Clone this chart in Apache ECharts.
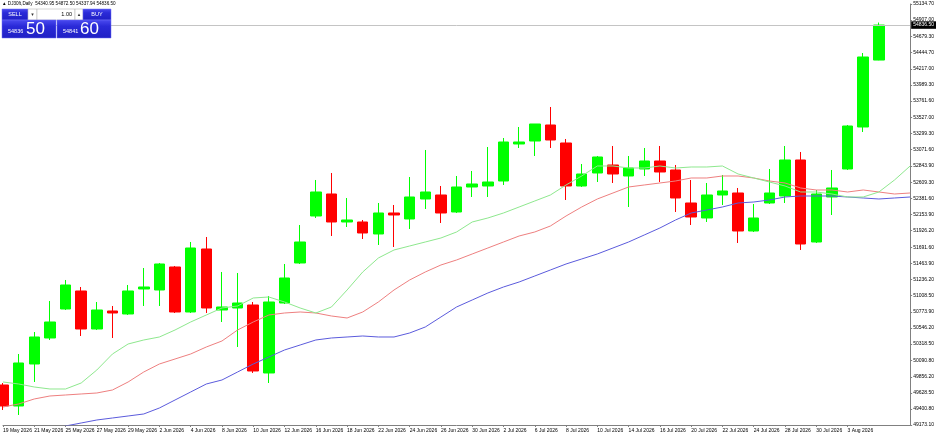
<!DOCTYPE html>
<html>
<head>
<meta charset="utf-8">
<script src="https://cdn.jsdelivr.net/npm/echarts@6/dist/echarts.min.js"></script>
<style>
html,body{margin:0;padding:0;background:#fff;}
#chart{width:937px;height:437px;}
</style>
</head>
<body>
<div id="chart"></div>
<script>
// ---- data ----
const categories = ['19 May 2026','20 May 2026','21 May 2026','22 May 2026','25 May 2026','26 May 2026','27 May 2026','28 May 2026','29 May 2026',
 '1 Jun 2026','2 Jun 2026','3 Jun 2026','4 Jun 2026','5 Jun 2026','8 Jun 2026','9 Jun 2026','10 Jun 2026','11 Jun 2026','12 Jun 2026',
 '15 Jun 2026','16 Jun 2026','17 Jun 2026','18 Jun 2026','19 Jun 2026','22 Jun 2026','23 Jun 2026','24 Jun 2026','25 Jun 2026','26 Jun 2026',
 '29 Jun 2026','30 Jun 2026','1 Jul 2026','2 Jul 2026','3 Jul 2026','6 Jul 2026','7 Jul 2026','8 Jul 2026','9 Jul 2026','10 Jul 2026',
 '13 Jul 2026','14 Jul 2026','15 Jul 2026','16 Jul 2026','17 Jul 2026','20 Jul 2026','21 Jul 2026','22 Jul 2026','23 Jul 2026','24 Jul 2026',
 '27 Jul 2026','28 Jul 2026','29 Jul 2026','30 Jul 2026','31 Jul 2026','3 Aug 2026','4 Aug 2026','5 Aug 2026','6 Aug 2026','7 Aug 2026'];

const openV = [49739.7,49442.3,50037.1,50405.2,50815.9,51070.7,50532.7,50787.5,50745.1,51099.1,
 51084.9,51410.6,50773.4,51665.5,50801.7,50830.0,50872.5,49909.6,50900.8,51467.2,
 52132.7,52444.3,52047.8,52047.8,51877.9,52175.2,52090.3,52373.5,52430.1,52189.4,
 52543.4,52557.5,52628.3,53152.3,53194.7,53421.3,53166.4,52557.5,52741.6,52854.9,
 52699.1,52798.3,52911.5,52784.1,52316.8,52104.4,52430.1,52458.4,51920.3,52316.8,
 52415.9,52925.7,51764.6,52401.8,52798.3,53393.0,54340.95];
const highV = [49768.0,50178.7,50490.2,50929.1,51226.5,51127.4,50915.0,50858.3,51155.7,51396.4,
 51467.2,51424.7,51764.6,51835.4,51339.8,51325.6,50915.0,50999.9,51453.1,52005.3,
 52642.5,52741.6,52387.6,52076.1,52316.8,52288.5,52685.0,53067.3,52557.5,52699.1,
 52769.9,53109.8,53237.2,53393.0,53435.5,53676.2,53223.1,52869.1,52982.3,53123.9,
 52982.3,53095.6,53123.9,52854.9,52642.5,52600.0,52713.3,52529.2,52302.7,52798.3,
 53123.9,53039.0,52500.9,52784.1,53421.3,54440.8,54872.50];
const lowV = [49385.7,49314.9,49782.2,50376.9,50801.7,50433.5,50518.5,50405.2,50730.9,50858.3,
 50858.3,50759.2,50759.2,50759.2,50631.8,50277.8,49909.6,49768.0,50886.7,51453.1,
 52104.4,51849.5,51977.0,51807.1,51722.1,51693.8,51948.7,52231.9,52033.6,52175.2,
 52401.8,52401.8,52571.7,53095.6,52982.3,53095.6,52359.3,52543.4,52614.2,52600.0,
 52260.2,52699.1,52614.2,52189.4,52005.3,52047.8,52288.5,51750.4,51906.2,52302.7,
 52316.8,51651.3,51750.4,52146.9,52784.1,53322.2,54337.94];
const closeV = [49442.3,50051.2,50419.4,50631.8,51155.7,50532.7,50801.7,50759.2,51070.7,51127.4,
 51453.1,50773.4,51679.6,50830.0,50844.2,50900.8,49937.9,50915.0,51254.8,51764.6,
 52472.6,52047.8,52076.1,51892.0,52175.2,52146.9,52401.8,52472.6,52175.2,52543.4,
 52585.9,52614.2,53180.6,53180.6,53435.5,53208.9,52557.5,52727.5,52968.2,52727.5,
 52812.4,52911.5,52755.8,52387.6,52118.6,52430.1,52486.7,51920.3,52104.4,52458.4,
 52925.7,51736.3,52444.3,52529.2,53407.1,54384.2,54836.50];

// Alligator lines (shifted forward, so they run past the last bar)
const lips = [49782.2,49753.9,49711.4,49683.1,49683.1,49768.0,49952.1,50178.7,50320.3,50376.9,
 50419.4,50518.5,50631.8,50730.9,50830.0,50858.3,50971.6,50985.8,50915.0,50830.0,
 50759.2,50844.2,51084.9,51339.8,51538.0,51651.3,51707.9,51764.6,51821.2,51906.2,
 52047.8,52104.4,52175.2,52260.2,52345.1,52430.1,52571.7,52699.1,52840.7,52840.7,
 52812.4,52812.4,52840.7,52812.4,52826.6,52826.6,52840.7,52727.5,52670.8,52614.2,
 52557.5,52472.6,52472.6,52444.3,52401.8,52401.8,52472.6,52642.5,52840.7];
const teeth = [49428.2,49470.7,49541.5,49583.9,49598.1,49612.3,49626.4,49668.9,49782.2,49923.8,
 50037.1,50107.9,50178.7,50277.8,50362.7,50518.5,50631.8,50730.9,50759.2,50773.4,
 50759.2,50716.7,50688.4,50773.4,50915.0,51084.9,51226.5,51339.8,51438.9,51509.7,
 51594.7,51679.6,51764.6,51849.5,51906.2,51991.1,52132.7,52260.2,52373.5,52458.4,
 52543.4,52571.7,52600.0,52628.3,52670.8,52670.8,52699.1,52699.1,52670.8,52628.3,
 52600.0,52529.2,52500.9,52500.9,52472.6,52500.9,52472.6,52444.3,52458.4];
const jaw = [null,null,null,49088.3,49159.1,49201.6,49244.1,49272.4,49300.7,49329.1,
 49414.0,49527.3,49640.6,49753.9,49810.5,49923.8,50037.1,50136.2,50235.3,50306.1,
 50376.9,50405.2,50419.4,50433.5,50419.4,50419.4,50476.0,50561.0,50702.6,50844.2,
 50943.3,51042.4,51127.4,51198.2,51283.1,51368.1,51453.1,51523.9,51594.7,51679.6,
 51764.6,51863.7,51962.8,52076.1,52175.2,52217.7,52260.2,52316.8,52331.0,52359.3,
 52401.8,52415.9,52415.9,52415.9,52401.8,52387.6,52373.5,52387.6,52401.8];

const yTicks = [49173.10,49400.80,49628.50,49856.20,50090.80,50318.50,50546.20,50773.90,51008.50,
 51236.20,51463.90,51691.60,51926.20,52153.90,52381.60,52609.30,52843.90,53071.60,53299.30,
 53527.00,53761.60,53989.30,54217.00,54444.70,54679.30,54907.00,55134.70];

const lastBarIndex = 56;
const bidPrice = 54836.50;
const askPrice = 54841.60;
const headerText = '\u25B2 DJ30ft,Daily  54340.95 54872.50 54337.94 54836.50';

// ---- chart ----
const candleData = openV.map((o, i) => [o, closeV[i], lowV[i], highV[i]]);
const FONT = 'Liberation Sans';
const showLabel = (idx) => idx % 2 === 0 && idx <= lastBarIndex;

const chart = echarts.init(document.getElementById('chart'), null, {renderer: 'canvas'});
const blueGrad = new echarts.graphic.LinearGradient(0, 0, 0, 1, [
  {offset: 0, color: '#4b4bf0'}, {offset: 0.35, color: '#2a2ad8'}, {offset: 1, color: '#1f1fc4'}]);
const blueGrad2 = new echarts.graphic.LinearGradient(0, 0, 0, 1, [
  {offset: 0, color: '#4b4bf0'}, {offset: 0.35, color: '#2a2ad8'}, {offset: 1, color: '#1f1fc4'}]);

function priceParts(p) {
  const s = p.toFixed(2);
  return [s.slice(0, 5), s.slice(6)];
}
const bidParts = priceParts(bidPrice);
const askParts = priceParts(askPrice);

chart.setOption({
  animation: false,
  backgroundColor: '#ffffff',
  grid: {left: 0, right: 26, top: 4, bottom: 12, containLabel: false},
  xAxis: {
    type: 'category',
    data: categories,
    boundaryGap: false,
    axisLine: {show: true, lineStyle: {color: '#808080', width: 1}},
    axisTick: {show: true, length: 2, interval: (idx) => showLabel(idx), lineStyle: {color: '#808080'}},
    axisLabel: {
      show: true, interval: (idx) => showLabel(idx), align: 'left', margin: 3,
      fontSize: 5, color: '#000', fontFamily: FONT, showMinLabel: true, showMaxLabel: false
    },
    splitLine: {show: false}
  },
  yAxis: {
    type: 'value',
    position: 'right',
    min: yTicks[0],
    max: yTicks[yTicks.length - 1],
    scale: true,
    axisLine: {show: true, lineStyle: {color: '#808080', width: 1}},
    axisTick: {show: true, length: 2, customValues: yTicks, lineStyle: {color: '#808080'}},
    axisLabel: {
      show: true, customValues: yTicks, margin: 3, fontSize: 5, color: '#000', fontFamily: FONT,
      formatter: (v) => Number(v).toFixed(2)
    },
    splitLine: {show: false}
  },
  series: [
    {
      type: 'candlestick',
      data: candleData,
      barWidth: 11,
      clip: true,
      z: 2,
      itemStyle: {
        color: '#00ff00', color0: '#ff0000',
        borderColor: '#00ff00', borderColor0: '#ff0000', borderWidth: 1
      },
      markLine: {
        silent: true,
        symbol: 'none',
        animation: false,
        lineStyle: {color: '#c4c4c4', type: 'solid', width: 1},
        label: {
          show: true, position: 'end', distance: 1,
          formatter: bidPrice.toFixed(2),
          backgroundColor: '#000', color: '#fff', fontSize: 5, fontFamily: FONT,
          padding: [1.5, 2, 1, 2]
        },
        data: [{yAxis: bidPrice}]
      }
    },
    {type: 'line', data: jaw, symbol: 'none', clip: true, z: 3, connectNulls: false,
      lineStyle: {color: '#5b5bdc', width: 1}},
    {type: 'line', data: teeth, symbol: 'none', clip: true, z: 3,
      lineStyle: {color: '#ee8080', width: 1}},
    {type: 'line', data: lips, symbol: 'none', clip: true, z: 3,
      lineStyle: {color: '#8ee88e', width: 1}}
  ],
  graphic: [
    {type: 'text', left: 2, top: 1, z: 10,
      style: {text: headerText, fontSize: 4.6, fill: '#000', fontFamily: FONT}},
    // top row
    {type: 'rect', shape: {x: 2, y: 9, width: 26, height: 11}, z: 10,
      style: {fill: blueGrad, stroke: '#6f6ff5', lineWidth: 0.5}},
    {type: 'text', x: 15, y: 14.5, z: 11,
      style: {text: 'SELL', fontSize: 5.5, fill: '#fff', fontFamily: FONT, align: 'center', verticalAlign: 'middle'}},
    {type: 'rect', shape: {x: 28, y: 9, width: 9, height: 11}, z: 10,
      style: {fill: '#fff', stroke: '#a8a8a8', lineWidth: 0.5}},
    {type: 'text', x: 32.5, y: 14.5, z: 11,
      style: {text: '\u25BE', fontSize: 5, fill: '#333', fontFamily: 'DejaVu Sans', align: 'center', verticalAlign: 'middle'}},
    {type: 'rect', shape: {x: 37, y: 9, width: 38, height: 11}, z: 10,
      style: {fill: '#fff', stroke: '#a8a8a8', lineWidth: 0.5}},
    {type: 'text', x: 72, y: 14.5, z: 11,
      style: {text: '1.00', fontSize: 5.5, fill: '#000', fontFamily: FONT, align: 'right', verticalAlign: 'middle'}},
    {type: 'rect', shape: {x: 75, y: 9, width: 8, height: 11}, z: 10,
      style: {fill: '#fff', stroke: '#a8a8a8', lineWidth: 0.5}},
    {type: 'text', x: 79, y: 14.5, z: 11,
      style: {text: '\u25B4', fontSize: 5, fill: '#333', fontFamily: 'DejaVu Sans', align: 'center', verticalAlign: 'middle'}},
    {type: 'rect', shape: {x: 83, y: 9, width: 28, height: 11}, z: 10,
      style: {fill: blueGrad2, stroke: '#6f6ff5', lineWidth: 0.5}},
    {type: 'text', x: 97, y: 14.5, z: 11,
      style: {text: 'BUY', fontSize: 5.5, fill: '#fff', fontFamily: FONT, align: 'center', verticalAlign: 'middle'}},
    // bottom row
    {type: 'rect', shape: {x: 2, y: 20, width: 54, height: 18}, z: 10,
      style: {fill: blueGrad, stroke: '#6f6ff5', lineWidth: 0.5}},
    {type: 'text', x: 8, y: 31, z: 11,
      style: {text: bidParts[0], fontSize: 5.5, fill: '#fff', fontFamily: FONT, verticalAlign: 'middle'}},
    {type: 'text', x: 26, y: 29.5, z: 11,
      style: {text: bidParts[1], fontSize: 17, fill: '#fff', fontFamily: FONT, verticalAlign: 'middle'}},
    {type: 'rect', shape: {x: 57, y: 20, width: 54, height: 18}, z: 10,
      style: {fill: blueGrad2, stroke: '#6f6ff5', lineWidth: 0.5}},
    {type: 'text', x: 63, y: 31, z: 11,
      style: {text: askParts[0], fontSize: 5.5, fill: '#fff', fontFamily: FONT, verticalAlign: 'middle'}},
    {type: 'text', x: 80, y: 29.5, z: 11,
      style: {text: askParts[1], fontSize: 17, fill: '#fff', fontFamily: FONT, verticalAlign: 'middle'}}
  ]
});
</script>
</body>
</html>
